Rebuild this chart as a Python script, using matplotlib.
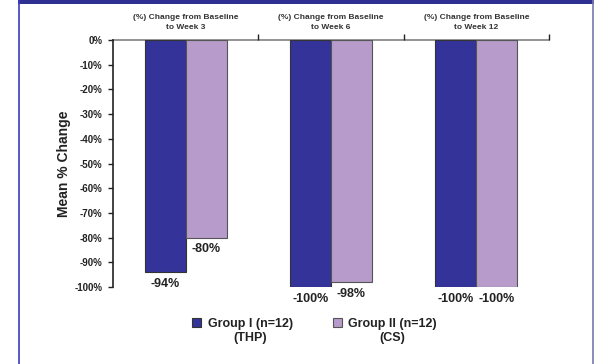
import matplotlib
matplotlib.use("Agg")
import matplotlib.pyplot as plt
from matplotlib.patches import Rectangle
from matplotlib.lines import Line2D
import numpy as np

plt.rcParams['font.family'] = ['Liberation Sans', 'DejaVu Sans']
plt.rcParams['font.weight'] = 'bold'

categories = ["(%) Change from Baseline\nto Week 3",
              "(%) Change from Baseline\nto Week 6",
              "(%) Change from Baseline\nto Week 12"]
group1 = [-94, -100, -100]
group2 = [-80, -98, -100]
series_labels = ["Group I (n=12)\n(THP)", "Group II (n=12)\n(CS)"]
yticks = list(range(0, -101, -10))

c1 = "#333399"
c2 = "#B79BCB"

W, H = 594, 364
fig = plt.figure(figsize=(W / 100, H / 100), dpi=100)

# slide frame: top band and side rules
fig.patches.append(Rectangle((18 / W, 1 - 3.5 / H), 1, 3.5 / H, transform=fig.transFigure,
                             facecolor="#2E3192", edgecolor="none"))
fig.lines.append(Line2D([18.5 / W, 18.5 / W], [0, 1], transform=fig.transFigure,
                        color="#3B3BC0", lw=1.2))
fig.lines.append(Line2D([592.5 / W, 592.5 / W], [0, 1], transform=fig.transFigure,
                        color="#7878AE", lw=1.2))

ax_l, ax_r, ax_t, ax_b = 113, 549, 40, 287
ax = fig.add_axes([ax_l / W, 1 - ax_b / H, (ax_r - ax_l) / W, (ax_b - ax_t) / H])

x = np.arange(len(categories))
bw = 0.282
b1 = ax.bar(x - bw / 2, group1, bw, color=c1, edgecolor="#333333", linewidth=0.8,
            label=series_labels[0])
b2 = ax.bar(x + bw / 2, group2, bw, color=c2, edgecolor="#555555", linewidth=0.8,
            label=series_labels[1])

for bars, vals in ((b1, group1), (b2, group2)):
    for rect, v in zip(bars, vals):
        ax.annotate(f"{v}%", (rect.get_x() + rect.get_width() / 2, v),
                    xytext=(0, -4), textcoords="offset points",
                    ha="center", va="top", fontsize=9, fontweight="bold",
                    color="#222222", annotation_clip=False)

ax.set_xlim(-0.5, len(categories) - 0.5)
ax.set_ylim(-100, 0)
ax.set_yticks(yticks)
ax.set_yticklabels([f"{t}%" for t in yticks], fontsize=7, fontweight="bold", color="#222222")
ax.tick_params(axis="y", direction="out", length=3.5, width=1, color="#222222", pad=4)

ax.xaxis.tick_top()
ax.set_xticks(np.arange(len(categories)) + 0.5)
ax.set_xticklabels([])
ax.tick_params(axis="x", which="major", direction="out", length=4, width=1, color="#222222")
ax.set_xticks(x, minor=True)
ax.set_xticklabels(categories, minor=True, fontsize=6, fontweight="bold", color="#333333",
                   linespacing=1.55)
ax.tick_params(axis="x", which="minor", length=0, pad=6.5)

for s in ("right", "bottom"):
    ax.spines[s].set_visible(False)
ax.spines["left"].set_color("#222222")
ax.spines["left"].set_linewidth(1.2)
ax.spines["top"].set_color("#808080")
ax.spines["top"].set_linewidth(1.2)
ax.spines["top"].set_zorder(0.5)

ax.set_ylabel("Mean % Change", fontsize=10, fontweight="bold", color="#222222")
ax.yaxis.set_label_coords((71 - ax_l) / (ax_r - ax_l), 0.5)

leg = fig.legend(handles=[b1, b2], labels=series_labels, loc="upper left",
                 bbox_to_anchor=(187 / W, 1 - 313 / H), ncol=2, frameon=False,
                 prop={"size": 9, "weight": "bold"}, handlelength=0.75, handleheight=0.75,
                 handletextpad=0.5, columnspacing=3.2, borderaxespad=0)
for t in leg.get_texts():
    t.set_multialignment("center")
    t.set_color("#222222")
# put each swatch level with the first line of its label
for col in leg._legend_handle_box.get_children():
    for item in col.get_children():
        item.align = "top"

fig.savefig("out.png", dpi=100)
